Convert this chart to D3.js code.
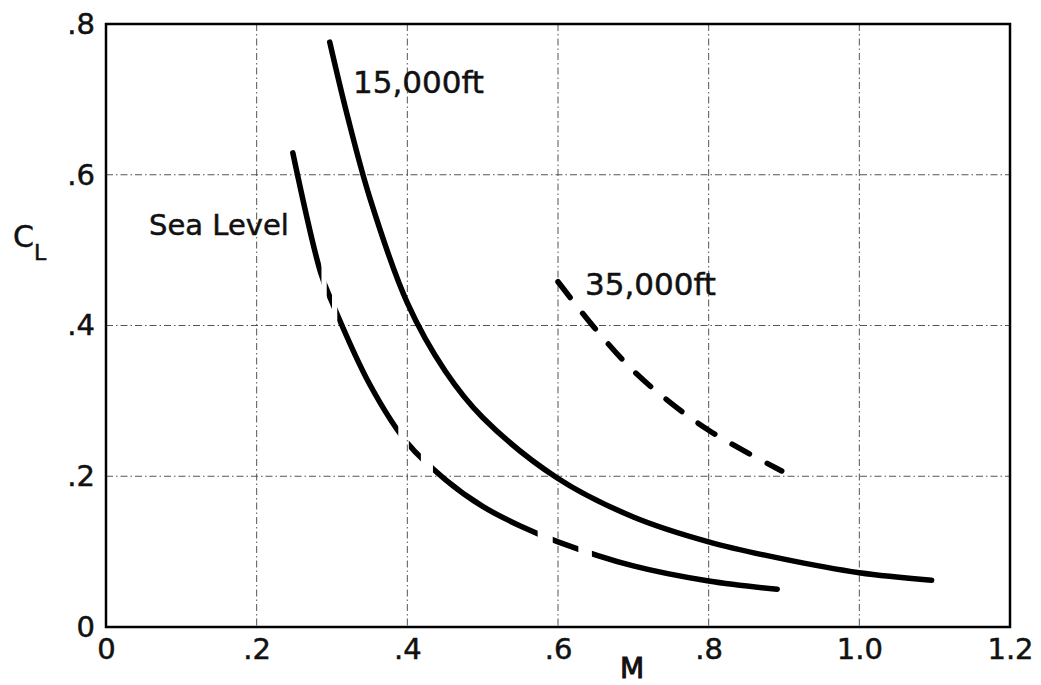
<!DOCTYPE html>
<html>
<head>
<meta charset="utf-8">
<script src="https://cdn.jsdelivr.net/npm/d3@7"></script>
<style>
  body { margin: 0; background: #fff; }
  text { font-family: "DejaVu Sans", sans-serif; fill: #111; stroke: #111; stroke-width: 0.5; }
  .grid line { stroke: #555; stroke-width: 1; stroke-dasharray: 7,3,1.5,3; }
  .frame { fill: none; stroke: #000; stroke-width: 2.5; }
  .curve { fill: none; stroke: #000; stroke-width: 5.5; stroke-linecap: round; }
</style>
</head>
<body>
<div id="chart"></div>
<script>
// values
var xTicks = [0, 0.2, 0.4, 0.6, 0.8, 1.0, 1.2],
    xTickLabels = ["0", ".2", ".4", ".6", ".8", "1.0", "1.2"],
    yTicks = [0, 0.2, 0.4, 0.6, 0.8],
    yTickLabels = ["0", ".2", ".4", ".6", ".8"];

var seaLevelM  = [0.248, 0.285, 0.30, 0.35, 0.40, 0.45, 0.50, 0.55, 0.60, 0.70, 0.80, 0.891],
    seaLevelCL = [0.629, 0.470, 0.431, 0.322, 0.244, 0.196, 0.160, 0.134, 0.113, 0.081, 0.061, 0.050];
// pieces of the sea level curve that are inked (the rest are breaks)
var seaLevelInked = [[0.24, 0.286], [0.293, 0.300], [0.307, 0.388], [0.402, 0.418],
                     [0.434, 0.573], [0.593, 0.627], [0.645, 0.90]];

var ft15M  = [0.297, 0.32, 0.35, 0.40, 0.45, 0.50, 0.60, 0.70, 0.80, 0.90, 1.00, 1.096],
    ft15CL = [0.776, 0.68, 0.57, 0.43, 0.34, 0.278, 0.197, 0.146, 0.113, 0.090, 0.072, 0.062];

var ft35M  = [0.60, 0.65, 0.70, 0.75, 0.80, 0.85, 0.897],
    ft35CL = [0.458, 0.395, 0.340, 0.297, 0.261, 0.232, 0.207];

function init() {
    var margin = {top: 24, right: 31, bottom: 58, left: 106},
        w = 1041 - margin.left - margin.right,
        h = 685 - margin.top - margin.bottom;

    var x = d3.scaleLinear().domain([0, 1.2]).range([0, w]),
        y = d3.scaleLinear().domain([0, 0.8]).range([h, 0]);

    var svg = d3.select("#chart").append("svg")
        .attr("width", 1041)
        .attr("height", 685)
        .append("g")
        .attr("transform", "translate(" + margin.left + "," + margin.top + ")");

    // grid
    var grid = svg.append("g").attr("class", "grid");
    grid.selectAll(".vx")
        .data(xTicks.slice(1, -1))
        .enter().append("line")
        .attr("x1", function(d) { return x(d); })
        .attr("x2", function(d) { return x(d); })
        .attr("y1", 0).attr("y2", h);
    grid.selectAll(".hy")
        .data(yTicks.slice(1, -1))
        .enter().append("line")
        .attr("y1", function(d) { return y(d); })
        .attr("y2", function(d) { return y(d); })
        .attr("x1", 0).attr("x2", w);

    svg.append("rect")
        .attr("class", "frame")
        .attr("x", 0).attr("y", 0)
        .attr("width", w).attr("height", h);

    // tick labels
    var xAxis = d3.axisBottom(x).tickValues(xTicks)
        .tickFormat(function(d, i) { return xTickLabels[i]; })
        .tickSize(0).tickPadding(11);
    var yAxis = d3.axisLeft(y).tickValues(yTicks)
        .tickFormat(function(d, i) { return yTickLabels[i]; })
        .tickSize(0).tickPadding(11);

    var gx = svg.append("g")
        .attr("transform", "translate(0," + h + ")")
        .call(xAxis);
    var gy = svg.append("g").call(yAxis);
    [gx, gy].forEach(function(g) {
        g.select(".domain").remove();
        g.selectAll("text")
            .style("font-family", "DejaVu Sans")
            .style("font-size", "29px")
            .attr("fill", "#111");
    });

    var line = d3.line()
        .curve(d3.curveCatmullRom.alpha(0.5))
        .x(function(d) { return x(d[0]); })
        .y(function(d) { return y(d[1]); });

    // sea level, broken in places
    var clip = svg.append("clipPath").attr("id", "seaClip");
    clip.selectAll("rect")
        .data(seaLevelInked)
        .enter().append("rect")
        .attr("x", function(d) { return x(d[0]); })
        .attr("width", function(d) { return x(d[1]) - x(d[0]); })
        .attr("y", -20).attr("height", h + 40);

    svg.append("path")
        .datum(d3.zip(seaLevelM, seaLevelCL))
        .attr("class", "curve")
        .attr("clip-path", "url(#seaClip)")
        .attr("d", line);

    svg.append("path")
        .datum(d3.zip(ft15M, ft15CL))
        .attr("class", "curve")
        .attr("d", line);

    svg.append("path")
        .datum(d3.zip(ft35M, ft35CL))
        .attr("class", "curve")
        .style("stroke-dasharray", "20,20")
        .attr("d", line);

    // curve labels
    svg.append("text")
        .attr("x", 353 - margin.left).attr("y", 93 - margin.top)
        .style("font-size", "31px")
        .text("15,000ft");
    svg.append("text")
        .attr("x", 149 - margin.left).attr("y", 235 - margin.top)
        .style("font-size", "29px")
        .text("Sea Level");
    svg.append("text")
        .attr("x", 585 - margin.left).attr("y", 295 - margin.top)
        .style("font-size", "31px")
        .text("35,000ft");

    // axis titles
    var cl = svg.append("text")
        .attr("x", 13 - margin.left).attr("y", 247 - margin.top)
        .style("font-size", "30px");
    cl.append("tspan").text("C");
    cl.append("tspan").attr("dy", 13).style("font-size", "22px").text("L");

    svg.append("text")
        .attr("x", 632 - margin.left).attr("y", 678 - margin.top)
        .attr("text-anchor", "middle")
        .style("font-size", "28px")
        .style("stroke-width", 1)
        .text("M");
}
init();
</script>
</body>
</html>
